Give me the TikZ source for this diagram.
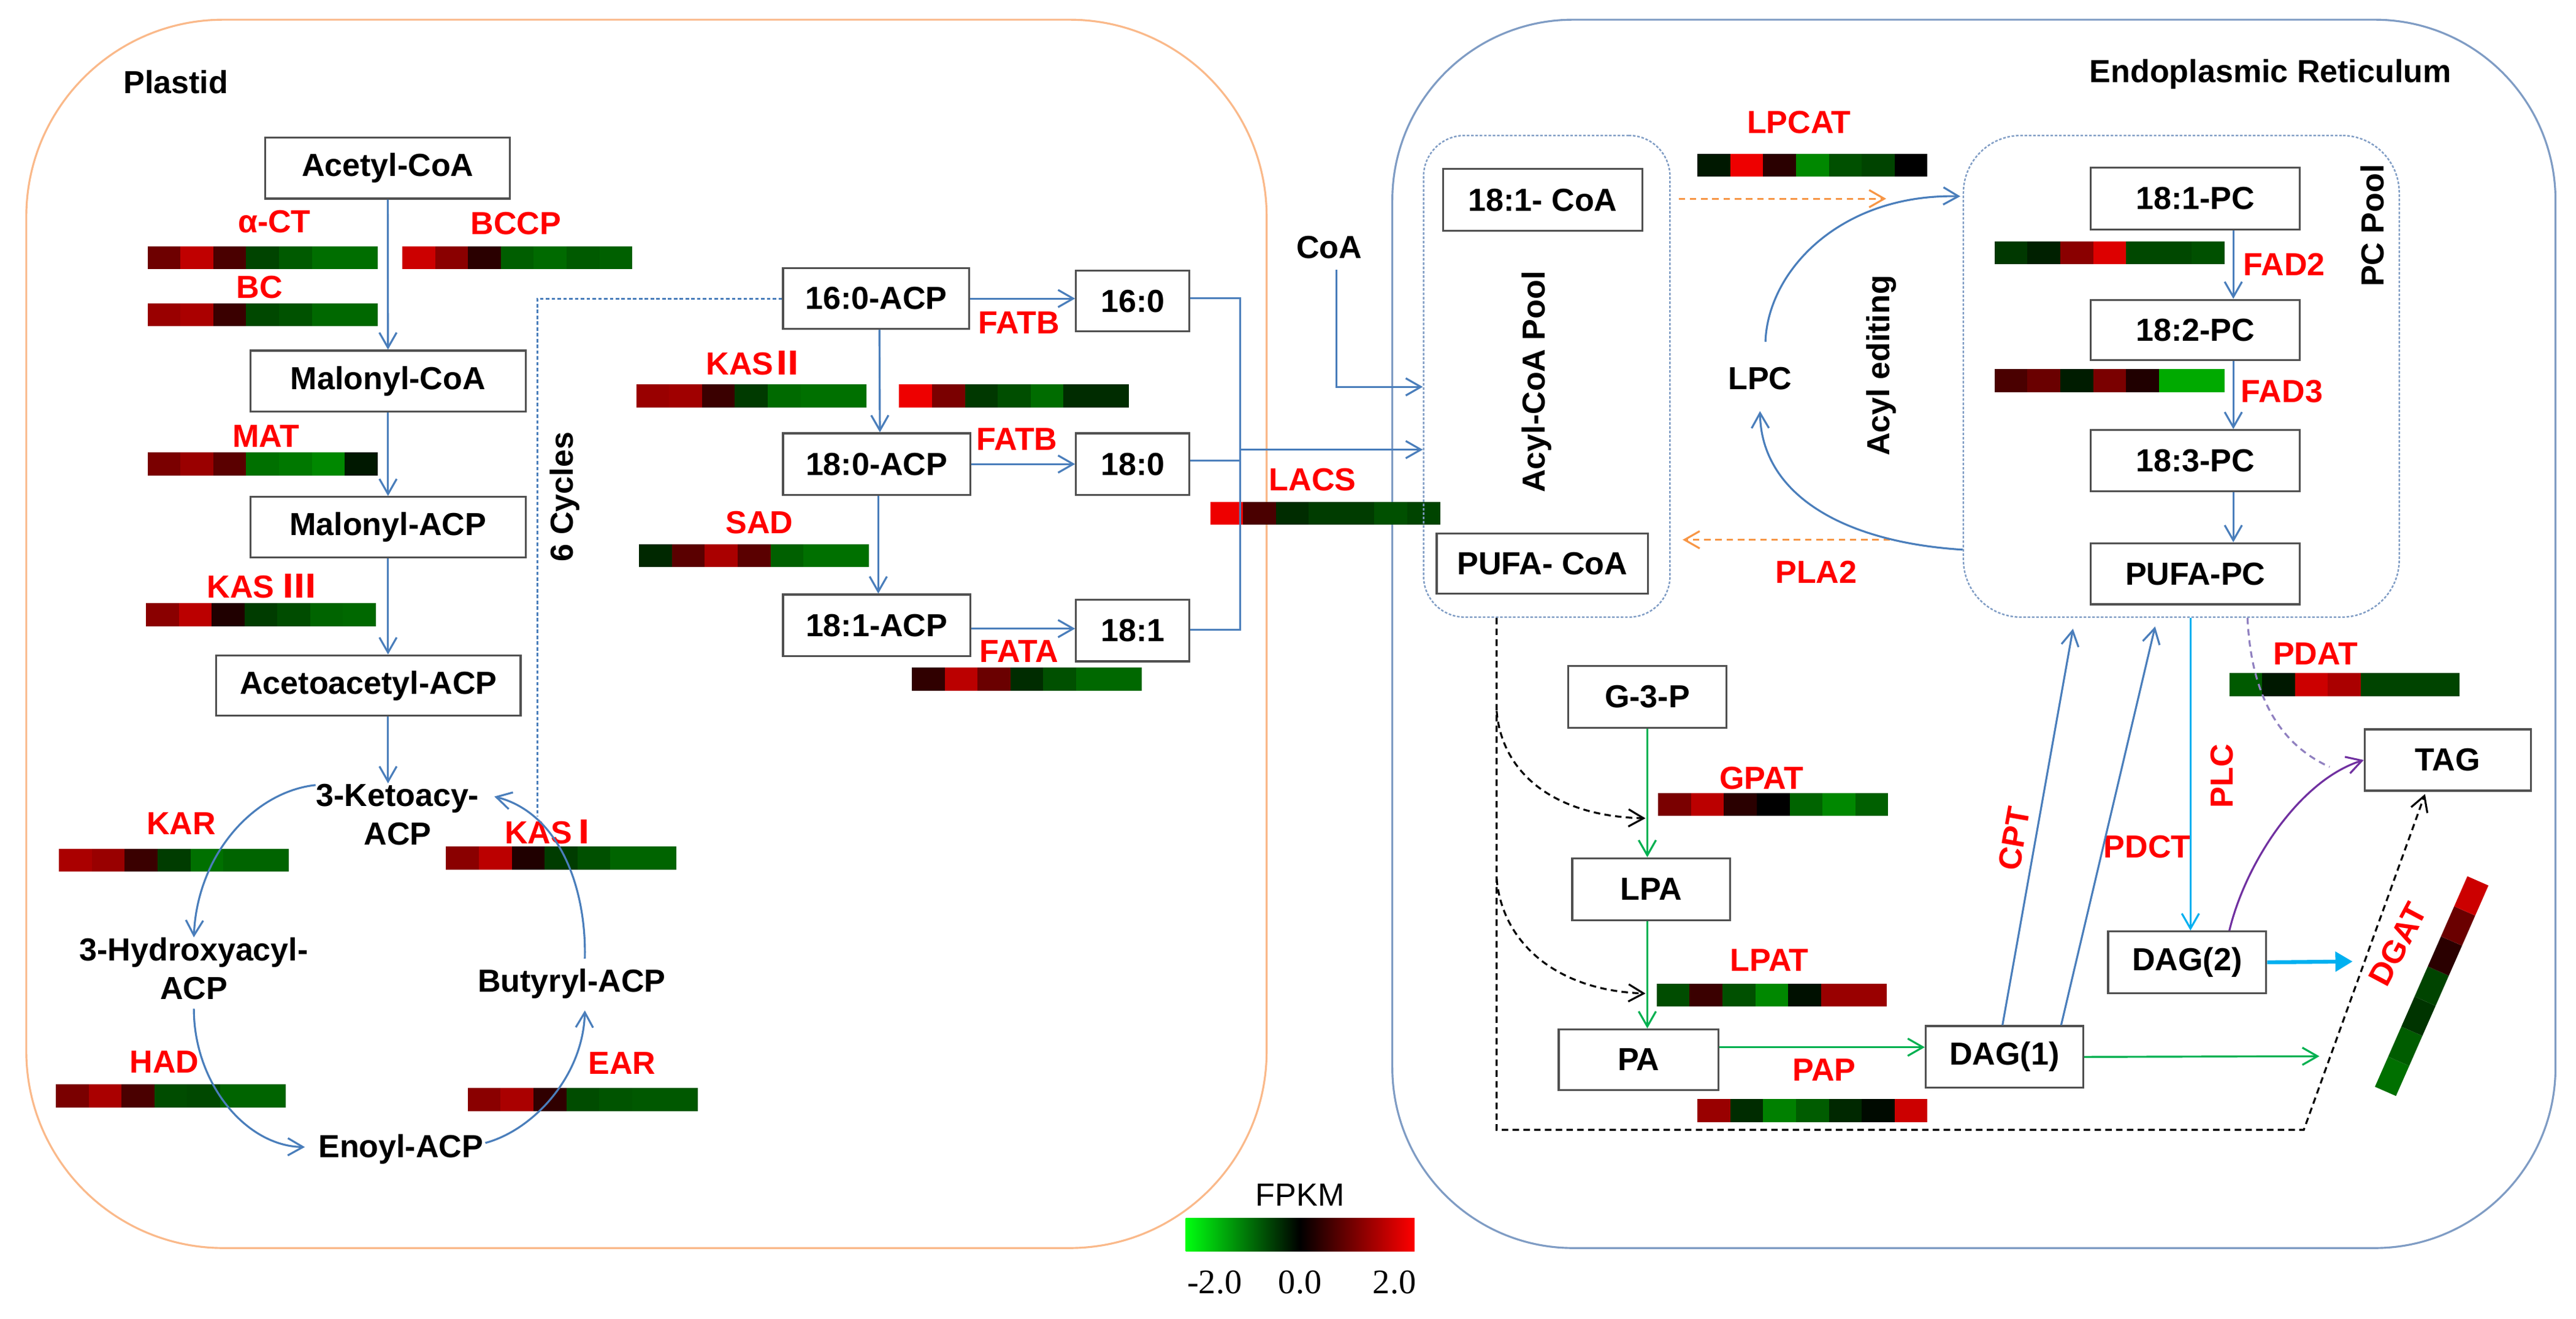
\documentclass[tikz,border=0pt]{standalone}
\usepackage{fontspec}
\setmainfont{Liberation Sans}
\newfontfamily\cjk{Noto Sans CJK SC}
\newfontfamily\numfont{Liberation Serif}
\usetikzlibrary{arrows.meta,calc}
\newlength\un
\setlength\un{0.2679mm}
\definecolor{blueline}{HTML}{4A7EBB}
\definecolor{plastidc}{HTML}{FAB98A}
\definecolor{erc}{HTML}{7F9CC4}
\definecolor{poolc}{HTML}{7F9CC4}
\definecolor{orangec}{HTML}{F79646}
\definecolor{greenc}{HTML}{00B050}
\definecolor{cyanc}{HTML}{00B0F0}
\definecolor{purplec}{HTML}{7030A0}
\definecolor{lavc}{HTML}{9080C0}
\definecolor{redlbl}{HTML}{FF0000}
\definecolor{boxc}{HTML}{505050}
\definecolor{lgreen}{HTML}{00FF10}
\definecolor{lred}{HTML}{FF0000}
\newcommand\heatbar[3]{%
  \foreach \c [count=\i from 0] in {#3} {%
    \edef\hmtmp{\noexpand\definecolor{hmc}{HTML}{\c}}\hmtmp
    \fill[hmc] ({#1+\i*20},{#2}) rectangle ({#1+(\i+1)*20},{#2+14});
  }}
\tikzset{
  every node/.style={font=\fontsize{14.8}{18}\selectfont\bfseries},
  box/.style={draw=boxc, line width=0.9pt, fill=white, inner sep=0pt, align=center},
  bx/.style 2 args={box, minimum width=#1*\un, minimum height=#2*\un},
  txt/.style={inner sep=0pt, align=center},
  lbl/.style={text=redlbl, inner sep=0pt},
  pool/.style={draw=poolc, line width=0.7pt, dash pattern=on 1.2pt off 0.8pt, rounded corners=25*\un, inner sep=0pt},
  tipo/.style={-{Straight Barb[length=7pt,width=8pt,line width=0.9pt]}},
  bline/.style={draw=blueline, line width=0.9pt},
  barrow/.style={bline, tipo},
  bdot/.style={draw=blueline, line width=0.9pt, dash pattern=on 1.6pt off 1.1pt},
  odash/.style={draw=orangec, line width=0.9pt, dash pattern=on 3pt off 2.2pt, tipo},
  garrow/.style={draw=greenc, line width=0.9pt, tipo},
  carrow/.style={draw=cyanc, line width=0.9pt, tipo},
  cthick/.style={draw=cyanc, line width=1.8pt, -{Triangle[length=8pt,width=9pt]}},
  parrow/.style={draw=purplec, line width=0.9pt, tipo},
  pdash/.style={draw=lavc, line width=0.9pt, dash pattern=on 3pt off 2.2pt},
  kdash/.style={draw=black, line width=0.9pt, dash pattern=on 3pt off 2pt, tipo},
}
\begin{document}
\begin{tikzpicture}[x=\un, y=-\un]
\useasboundingbox (0,0) rectangle (1568,803);

% compartments
\draw[plastidc, line width=0.9pt, rounded corners=120*\un] (16,12) rectangle (771,760);
\draw[erc, line width=0.9pt, rounded corners=110*\un] (847.5,12) rectangle (1555.5,760);
\node[txt] (plastidlbl) at (107,50) {Plastid};
\node[txt] (erlbl) at (1382,45.2) {Endoplasmic Reticulum};

% ---------------- Plastid ----------------
\node[bx={149}{37}] (acetylcoa) at (236,102.4) {Acetyl-CoA};
\node[bx={167.6}{37}] (malonylcoa) at (236.2,232) {Malonyl-CoA};
\node[bx={167.6}{37}] (malonylacp) at (236.2,321.1) {Malonyl-ACP};
\node[bx={185.2}{36.7}] (acetoacp) at (224.3,417.5) {Acetoacetyl-ACP};
\node[txt] (keto) at (242,496) {3-Ketoacy-\\ACP};
\node[txt] (hydroxy) at (118,590) {3-Hydroxyacyl-\\ACP};
\node[txt] (enoyl) at (244,700) {Enoyl-ACP};
\node[txt] (butyryl) at (348,599) {Butyryl-ACP};
\node[txt, rotate=90] (cycles) at (343.7,302.5) {6 Cycles};

\node[lbl] (lact) at (167,135) {α-CT};
\node[lbl] (lbccp) at (314,136) {BCCP};
\node[lbl] (lbc) at (158,175) {BC};
\node[lbl] (lmat) at (162,265.5) {MAT};
\node[lbl] (lkas3) at (159,357) {KAS {\cjk Ⅲ}};
\node[lbl] (lkar) at (110.4,501.3) {KAR};
\node[lbl] (lhad) at (100,646.8) {HAD};
\node[lbl] (lkas1) at (335,506.4) {KAS\makebox[0.75em][c]{\cjk Ⅰ}};
\node[lbl] (lear) at (378.6,647.3) {EAR};

\heatbar{89.8}{150}{6E0000,C00000,4A0000,004400,005A00,006E00,006E00}
\heatbar{244.9}{150}{CC0000,8A0000,2A0000,005E00,006A00,005A00,006000}
\heatbar{89.8}{184.6}{990000,AA0000,3A0000,004800,005200,006800,006800}
\heatbar{89.8}{275.5}{7A0000,9A0000,5A0000,007000,007800,008800,001800}
\heatbar{88.8}{367.4}{8A0000,BB0000,200000,003C00,004C00,006400,006800}
\heatbar{35.9}{516.8}{AA0000,990000,3A0000,003C00,007000,006400,006400}
\heatbar{34}{660.3}{7A0000,AA0000,4A0000,004C00,004800,006400,006400}
\heatbar{271.5}{515.5}{8A0000,BB0000,200000,003C00,005000,006400,006400}
\heatbar{284.7}{662.5}{8A0000,AA0000,300000,004C00,005400,005800,005800}

\draw[barrow] (acetylcoa) -- (malonylcoa);
\draw[barrow] (malonylcoa) -- (malonylacp);
\draw[barrow] (malonylacp.south) -- (malonylacp.south |- acetoacp.north);
\draw[barrow] (acetoacp.south -| malonylacp.south) -- (keto.north -| malonylacp.south);
\draw[barrow] ($(keto.north west)+(0,1)$) .. controls (155,482) and (120,520) .. (hydroxy.north);
\draw[barrow] ($(hydroxy.south)+(0,5)$) .. controls (118,660) and (150,698) .. ($(enoyl.west)+(-8,-1.5)$);
\draw[barrow] ($(enoyl.east)+(1,-4)$) .. controls (325,688) and (355,655) .. ($(butyryl.south)+(8,7)$);
\draw[barrow] ($(butyryl.north)+(8,-6)$) .. controls (357,540) and (340,495) .. ($(keto.north east)+(9,8)$);

% ---------------- Middle ----------------
\node[bx={113.4}{37}] (acp160) at (533.3,181.8) {16:0-ACP};
\node[bx={69}{37}] (fa160) at (689.5,183.3) {16:0};
\node[bx={114}{37.5}] (acp180) at (533.6,282.6) {18:0-ACP};
\node[bx={69}{37.5}] (fa180) at (689.5,282.6) {18:0};
\node[bx={114}{37.5}] (acp181) at (533.6,380.8) {18:1-ACP};
\node[bx={69}{37.5}] (fa181) at (689.5,384) {18:1};
\node[txt] (coa) at (809,150.5) {CoA};

\node[lbl] (lkas2) at (459,221.2) {KAS\makebox[0.9em][c]{\cjk Ⅱ}};
\node[lbl] (lfatb1) at (620.3,196.6) {FATB};
\node[lbl] (lfatb2) at (619,267.4) {FATB};
\node[lbl] (lsad) at (462.3,318.1) {SAD};
\node[lbl] (lfata) at (620.3,396.6) {FATA};
\node[lbl] (llacs) at (799,292) {LACS};

\heatbar{387.3}{234.1}{990000,A00000,3A0000,003A00,006A00,007000,007000}
\heatbar{547.3}{234.1}{EE0000,7A0000,003800,004E00,006C00,002C00,002C00}
\heatbar{389}{331.3}{002800,5A0000,AA0000,5A0000,006000,007000,007000}
\heatbar{555}{406.6}{300000,BB0000,6A0000,002C00,005000,006800,006800}
\heatbar{736.6}{305.6}{EE0000,4A0000,002C00,003C00,003C00,005000,004400}

\coordinate (cycend) at (327,497);
\draw[bdot] (acp160.west) -| (cycend);
\draw[barrow] (acp160.east) -- (acp160.east -| fa160.west);
\draw[barrow] (acp180.east) -- (acp180.east -| fa180.west);
\draw[barrow] ($(acp181.east)+(0,2)$) -- ($(acp181.east -| fa181.west)+(0,2)$);
\draw[barrow] ($(acp160.south)+(2,0)$) -- ($(acp180.north)+(2,0)$);
\draw[barrow] ($(acp180.south)+(1,0)$) -- ($(acp181.north)+(1,0)$);
\coordinate (colb) at (755,383.5);
\draw[bline] ($(fa160.east)+(0,-1.7)$) -| (colb) -- (colb -| fa181.east);
\draw[bline] ($(fa180.east)+(0,-2)$) -- ($(fa180.east -| colb)+(0,-2)$);

% ---------------- ER ----------------
\node[pool, minimum width=150*\un, minimum height=293.3*\un] (acylpool) at (941.5,229.15) {};
\node[pool, rounded corners=35*\un, minimum width=265.3*\un, minimum height=293.3*\un] (pcpool) at (1327.75,229.15) {};

\coordinate (lacsj) at (755,273.8);
\draw[barrow] (lacsj) -- (lacsj -| acylpool.west);
\coordinate (coabend) at (813.4,235.6);
\draw[barrow] ($(coa.south)+(4.4,6.7)$) -- (coabend) -- (coabend -| acylpool.west);

\node[bx={121.4}{37.7}] (coa181) at (939.1,121.8) {18:1- CoA};
\node[bx={128.6}{36.6}] (pufacoa) at (938.8,343.1) {PUFA- CoA};
\node[txt, rotate=90] (acylpoollbl) at (935.5,232.5) {Acyl-CoA Pool};
\node[txt] (lpc) at (1071.3,230.6) {LPC};
\node[txt, rotate=90] (acyled) at (1145,222.6) {Acyl editing};
\node[txt, rotate=90] (pcpoollbl) at (1444,137.4) {PC Pool};
\node[bx={127.2}{37.5}] (pc181) at (1336.3,120.9) {18:1-PC};
\node[bx={127.2}{36.7}] (pc182) at (1336.3,200.9) {18:2-PC};
\node[bx={127.2}{37.2}] (pc183) at (1336.3,280.5) {18:3-PC};
\node[bx={127.2}{37.2}] (pufapc) at (1336.3,349.4) {PUFA-PC};
\node[bx={96.2}{37.6}] (g3p) at (1002.7,424.4) {G-3-P};
\node[bx={96.2}{37.8}] (lpa) at (1005.1,541.5) {LPA};
\node[bx={97.2}{36.9}] (pa) at (997.4,645.3) {PA};
\node[bx={95.8}{37.6}] (dag1) at (1220.1,643.6) {DAG(1)};
\node[bx={96.2}{37.5}] (dag2) at (1331.3,586) {DAG(2)};
\node[bx={101}{37.3}] (tag) at (1489.9,462.8) {TAG};

\node[lbl] (llpcat) at (1095,74.6) {LPCAT};
\node[lbl] (lpla2) at (1105.5,348.3) {PLA2};
\node[lbl] (lfad2) at (1390.4,161) {FAD2};
\node[lbl] (lfad3) at (1389,238.3) {FAD3};
\node[lbl] (lpdat) at (1409.4,398) {PDAT};
\node[lbl] (lgpat) at (1072.2,473.8) {GPAT};
\node[lbl] (llpat) at (1077,584.9) {LPAT};
\node[lbl] (lpap) at (1110.3,651.4) {PAP};
\node[lbl, rotate=80] (lcpt) at (1226,510.7) {CPT};
\node[lbl] (lpdct) at (1307,515.8) {PDCT};
\node[lbl, rotate=90] (lplc) at (1352.3,472.6) {PLC};
\node[lbl, rotate=62] (ldgat) at (1459.5,575) {DGAT};

\heatbar{1033.2}{93.6}{001800,EE0000,2A0000,008800,005000,004400,000000}
\heatbar{1214.1}{147}{003800,002000,8A0000,DD0000,004800,004800,005000}
\heatbar{1214.1}{224.8}{4A0000,6A0000,001C00,7A0000,200000,00AA00,00AA00}
\heatbar{1357}{410}{005A00,001800,CC0000,AA0000,004400,004400,004400}
\heatbar{1009.3}{482.8}{7A0000,BB0000,2A0000,000000,006400,008800,006000}
\heatbar{1008.4}{599}{004C00,3A0000,005000,008800,001000,990000,990000}
\heatbar{1033.2}{669.4}{990000,002C00,008000,005C00,002800,000A00,CC0000}
\begin{scope}[shift={(1452,664.6)}, rotate=66.3]
  \foreach \c [count=\i from 0] in {007000,005C00,003400,004400,2A0000,6A0000,CC0000} {%
    \edef\hmtmp{\noexpand\definecolor{hmc}{HTML}{\c}}\hmtmp
    \fill[hmc] ({\i*20},-7) rectangle ({(\i+1)*20},7);
  }
\end{scope}

% acyl exchange
\draw[odash] ($(coa181.east)+(21.4,-0.8)$) -- ++(126.3,0);
\draw[odash] ($(pufacoa.east)+(146.7,-14.4)$) -- ($(pufacoa.east)+(20.5,-14.4)$);
\draw[barrow] ($(lpc.north)+(3.3,-15.3)$) .. controls (1076,165) and (1120,118) .. ($(pcpool.north west)+(-1.4,37.5)$);
\draw[barrow] ($(pcpool.north west)+(0,252.7)$) .. controls (1120,330) and (1072,300) .. ($(lpc.south)+(0,12.6)$);

% PC chain
\draw[barrow] ($(pc181.south)+(23.1,0)$) -- ($(pc182.north)+(23.1,0)$);
\draw[barrow] ($(pc182.south)+(23.1,0)$) -- ($(pc183.north)+(23.1,0)$);
\draw[barrow] ($(pc183.south)+(23.1,0)$) -- ($(pufapc.north)+(23.1,0)$);

% Kennedy pathway
\draw[garrow] (g3p.south) -- (g3p.south |- lpa.north);
\draw[garrow] (lpa.south -| g3p.south) -- (pa.north -| g3p.south);
\draw[garrow] ($(pa.east)+(0,-7.6)$) -- ($(dag1.west)+(0,-5.9)$);
\coordinate (dag1out) at (1411.8,643.2);
\draw[garrow] (dag1.east) -- (dag1out);

\coordinate (cptend) at (1261.8,382.9);
\coordinate (pdctend) at (1311.8,381.5);
\draw[barrow] ($(dag1.north)+(-1.2,0)$) -- (cptend);
\draw[barrow] ($(dag1.north)+(34.5,0)$) -- (pdctend);

\draw[carrow] ($(dag2.north |- pcpool.south)+(2,0)$) -- ($(dag2.north)+(2,0)$);
\coordinate (dag2out) at (1432,585.5);
\draw[cthick] (dag2.east) -- (dag2out);

\coordinate (pdatend) at (1418,467);
\draw[pdash] ($(pcpool.south)+(40.3,0)$) .. controls (1370,420) and (1385,452) .. (pdatend);
\draw[parrow] ($(dag2.north)+(25.7,0)$) .. controls (1367,525) and (1400,475) .. (tag.west);

% acyl-CoA dashed routes
\coordinate (kdA) at (911,688);
\coordinate (kdB) at (1402.3,688);
\draw[kdash] (acylpool.south -| kdA) -- (kdA) -- (kdB) -- ($(tag.south)+(-13.8,1.5)$);
\coordinate (kd1) at (911,433);
\coordinate (kd1e) at (1001.6,498.3);
\coordinate (kd2) at (911,535);
\coordinate (kd2e) at (1001.6,605);
\draw[kdash] (kd1) .. controls (914,470) and (945,497) .. (kd1e);
\draw[kdash] (kd2) .. controls (914,572) and (945,603) .. (kd2e);

% legend
\node[font=\fontsize{14.8}{16}\selectfont\mdseries, inner sep=0pt] (fpkm) at (791.3,727.5) {FPKM};
\shade[left color=lgreen, right color=lred, middle color=black] (721.7,741.8) rectangle (861,762.1);
\node[font=\numfont\fontsize{16}{18}\selectfont\mdseries, inner sep=0pt] (nm2) at (739.3,780.8) {-2.0};
\node[font=\numfont\fontsize{16}{18}\selectfont\mdseries, inner sep=0pt] (n0) at (791.3,780.8) {0.0};
\node[font=\numfont\fontsize{16}{18}\selectfont\mdseries, inner sep=0pt] (n2) at (848.8,780.8) {2.0};
\end{tikzpicture}
\end{document}
